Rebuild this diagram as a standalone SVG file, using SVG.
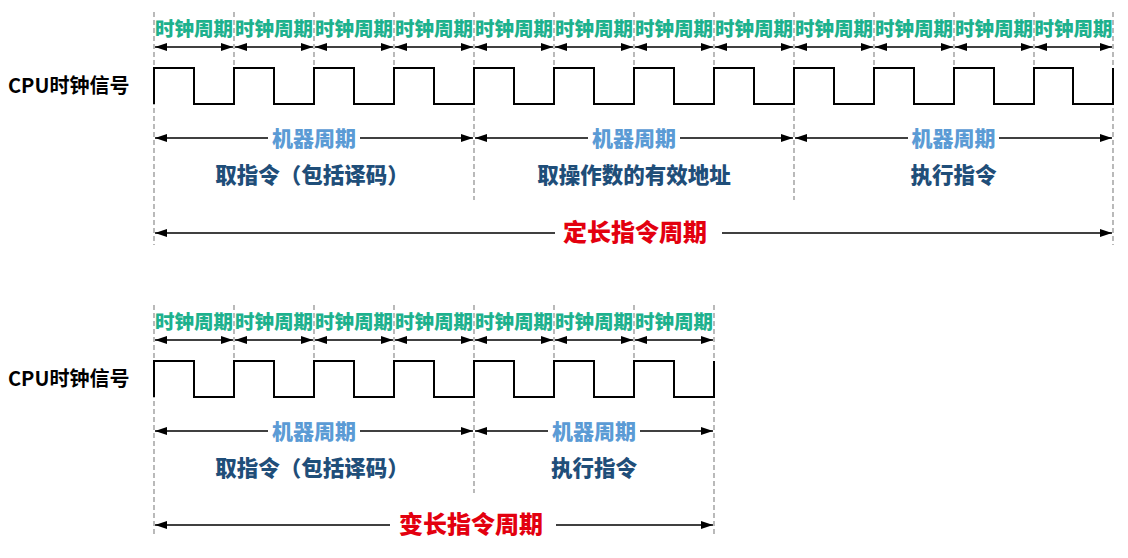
<svg xmlns="http://www.w3.org/2000/svg" width="1128" height="558" viewBox="0 0 1128 558">
<defs>
<marker id="ah" markerUnits="userSpaceOnUse" markerWidth="13" markerHeight="9" refX="12" refY="4" orient="auto-start-reverse">
<path d="M0,0 L12,4 L0,8 z" fill="#000"/>
</marker>
<style>
text{font-family:"Noto Sans CJK SC","Noto Sans",sans-serif;font-weight:900;text-anchor:middle}
.clk{font-size:19.5px;fill:#1db18d}
.mc{font-size:21px;fill:#5b9bd5}
.task{font-size:21.5px;fill:#1f4e79}
.ic{font-size:24px;fill:#e3000f}
.sig{font-size:20px;fill:#000;text-anchor:start;font-weight:bold}
.dash{stroke:#8c8c8c;stroke-width:1.2;stroke-dasharray:5 3;fill:none}
.arr{stroke:#000;stroke-width:1.6;fill:none}
.wave{stroke:#000;stroke-width:2;fill:none}
</style>
</defs>
<rect width="1128" height="558" fill="#fff"/>

<g id="guides-top">
<path class="dash" d="M154,12V245 M234,12V68 M314,12V68 M394,12V68 M474,12V200 M554,12V68 M634,12V68 M714,12V68 M794,12V200 M874,12V68 M954,12V68 M1034,12V68 M1113,12V245"/>
</g>
<g id="guides-bottom">
<path class="dash" d="M154,305V537 M234,305V361 M314,305V361 M394,305V361 M474,305V493 M554,305V361 M634,305V361 M714,305V537"/>
</g>

<g id="signal-top">
<text class="sig" x="8" y="93">CPU时钟信号</text>
<path class="wave" d="M154,104V68H194V104H234V68H274V104H314V68H354V104H394V68H434V104H474V68H514V104H554V68H594V104H634V68H674V104H714V68H754V104H794V68H834V104H874V68H914V104H954V68H994V104H1034V68H1073V104H1113V68"/>
</g>
<g id="signal-bottom">
<text class="sig" x="8" y="386">CPU时钟信号</text>
<path class="wave" d="M154,397V361H194V397H234V361H274V397H314V361H354V397H394V361H434V397H474V361H514V397H554V361H594V397H634V361H674V397H714V361"/>
</g>

<g id="clock-labels-top">
<text class="clk" x="194" y="36">时钟周期</text>
<text class="clk" x="274" y="36">时钟周期</text>
<text class="clk" x="354" y="36">时钟周期</text>
<text class="clk" x="434" y="36">时钟周期</text>
<text class="clk" x="514" y="36">时钟周期</text>
<text class="clk" x="594" y="36">时钟周期</text>
<text class="clk" x="674" y="36">时钟周期</text>
<text class="clk" x="754" y="36">时钟周期</text>
<text class="clk" x="834" y="36">时钟周期</text>
<text class="clk" x="914" y="36">时钟周期</text>
<text class="clk" x="994" y="36">时钟周期</text>
<text class="clk" x="1073.5" y="36">时钟周期</text>
</g>
<g id="clock-labels-bottom">
<text class="clk" x="194" y="329">时钟周期</text>
<text class="clk" x="274" y="329">时钟周期</text>
<text class="clk" x="354" y="329">时钟周期</text>
<text class="clk" x="434" y="329">时钟周期</text>
<text class="clk" x="514" y="329">时钟周期</text>
<text class="clk" x="594" y="329">时钟周期</text>
<text class="clk" x="674" y="329">时钟周期</text>
</g>

<g id="machine-top">
<text class="mc" x="314" y="146">机器周期</text>
<text class="mc" x="634" y="146">机器周期</text>
<text class="mc" x="953.5" y="146">机器周期</text>
<text class="task" x="312" y="183">取指令（包括译码）</text>
<text class="task" x="634" y="183">取操作数的有效地址</text>
<text class="task" x="953.5" y="183">执行指令</text>
<text class="ic" x="635" y="241">定长指令周期</text>
</g>
<g id="machine-bottom">
<text class="mc" x="314" y="439">机器周期</text>
<text class="mc" x="594" y="439">机器周期</text>
<text class="task" x="312" y="476">取指令（包括译码）</text>
<text class="task" x="594" y="476">执行指令</text>
<text class="ic" x="471" y="533">变长指令周期</text>
</g>

<g id="connectors">
<g class="arr">
<path d="M155,47H233" marker-start="url(#ah)" marker-end="url(#ah)"/>
<path d="M235,47H313" marker-start="url(#ah)" marker-end="url(#ah)"/>
<path d="M315,47H393" marker-start="url(#ah)" marker-end="url(#ah)"/>
<path d="M395,47H473" marker-start="url(#ah)" marker-end="url(#ah)"/>
<path d="M475,47H553" marker-start="url(#ah)" marker-end="url(#ah)"/>
<path d="M555,47H633" marker-start="url(#ah)" marker-end="url(#ah)"/>
<path d="M635,47H713" marker-start="url(#ah)" marker-end="url(#ah)"/>
<path d="M715,47H793" marker-start="url(#ah)" marker-end="url(#ah)"/>
<path d="M795,47H873" marker-start="url(#ah)" marker-end="url(#ah)"/>
<path d="M875,47H953" marker-start="url(#ah)" marker-end="url(#ah)"/>
<path d="M955,47H1033" marker-start="url(#ah)" marker-end="url(#ah)"/>
<path d="M1035,47H1112" marker-start="url(#ah)" marker-end="url(#ah)"/>

<path d="M155,138H268" marker-start="url(#ah)"/>
<path d="M360,138H473" marker-end="url(#ah)"/>
<path d="M475,138H588" marker-start="url(#ah)"/>
<path d="M680,138H793" marker-end="url(#ah)"/>
<path d="M795,138H908" marker-start="url(#ah)"/>
<path d="M999,138H1112" marker-end="url(#ah)"/>

<path d="M155,233H555" marker-start="url(#ah)"/>
<path d="M722,233H1112" marker-end="url(#ah)"/>

<path d="M155,340H233" marker-start="url(#ah)" marker-end="url(#ah)"/>
<path d="M235,340H313" marker-start="url(#ah)" marker-end="url(#ah)"/>
<path d="M315,340H393" marker-start="url(#ah)" marker-end="url(#ah)"/>
<path d="M395,340H473" marker-start="url(#ah)" marker-end="url(#ah)"/>
<path d="M475,340H553" marker-start="url(#ah)" marker-end="url(#ah)"/>
<path d="M555,340H633" marker-start="url(#ah)" marker-end="url(#ah)"/>
<path d="M635,340H713" marker-start="url(#ah)" marker-end="url(#ah)"/>

<path d="M155,431H268" marker-start="url(#ah)"/>
<path d="M360,431H473" marker-end="url(#ah)"/>
<path d="M475,431H548" marker-start="url(#ah)"/>
<path d="M640,431H713" marker-end="url(#ah)"/>

<path d="M155,525H390" marker-start="url(#ah)"/>
<path d="M556,525H713" marker-end="url(#ah)"/>
</g>
</g>
</svg>
